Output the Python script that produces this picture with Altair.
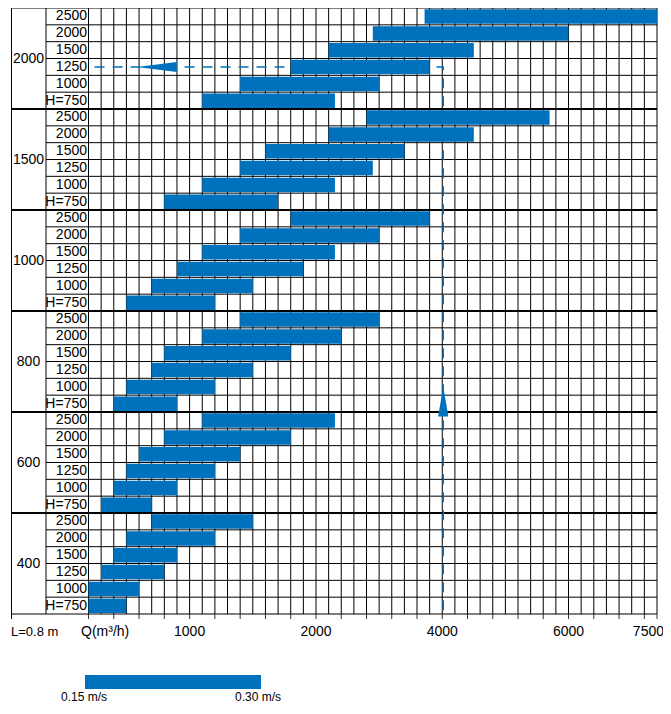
import altair as alt
import pandas as pd

# ---------------- data ----------------
widths = ["2000", "1500", "1000", "800", "600", "400"]          # group labels (top to bottom)
heights = ["2500", "2000", "1500", "1250", "1000", "H=750"]     # row labels inside each group

# Q (m3/h) at 0.15 m/s (bar start), per group, rows top->bottom
q_low_2000 = [3720, 2900, 2200, 1800, 1400, 1100]
q_low_1500 = [2800, 2200, 1600, 1400, 1100, 800]
q_low_1000 = [1800, 1400, 1100, 900, 700, 500]
q_low_800 = [1400, 1100, 800, 700, 500, 400]
q_low_600 = [1100, 800, 600, 500, 400, 300]
q_low_400 = [700, 500, 400, 300, 200, 200]

# Q (m3/h) at 0.30 m/s (bar end)
q_high_2000 = [7500, 6000, 4500, 3800, 3000, 2300]
q_high_1500 = [5700, 4500, 3400, 2900, 2300, 1700]
q_high_1000 = [3800, 3000, 2300, 1900, 1500, 1200]
q_high_800 = [3000, 2400, 1800, 1500, 1200, 900]
q_high_600 = [2300, 1800, 1400, 1200, 900, 700]
q_high_400 = [1500, 1200, 900, 800, 600, 500]

q_low = [q_low_2000, q_low_1500, q_low_1000, q_low_800, q_low_600, q_low_400]
q_high = [q_high_2000, q_high_1500, q_high_1000, q_high_800, q_high_600, q_high_400]

x_labels = [1000, 2000, 4000, 6000]
x_label_end = [7500]

# grid columns of the chart paper (Q values of the column boundaries)
grid_cols = (list(range(200, 2001, 100)) + list(range(2200, 6001, 200))
             + [6214, 6429, 6643, 6857, 7071, 7286, 7500])
tick_vals = grid_cols[::2] + [7500]

# example reading (dashed path): 4000 m3/h -> width 2000, H=1250
example_q = [240, 4000, 4000]
example_row = [3.5, 3.5, 36]

BLUE = "#0071bc"
FONT = "Liberation Sans"
W, H = 646, 606
N_ROWS = 36

# ---------------- tables ----------------
bars = []
rows = []
for gi, w in enumerate(widths):
    for hi, h in enumerate(heights):
        r = gi * 6 + hi
        bars.append({"q_lo": q_low[gi][hi], "q_hi": q_high[gi][hi],
                     "r0": r + 0.08, "r1": r + 1 - 0.06})
        rows.append({"label": h, "rc": r + 0.5})
bars = pd.DataFrame(bars)
rows = pd.DataFrame(rows)
groups = pd.DataFrame({"label": widths, "rc": [g * 6 + 3 for g in range(len(widths))]})
vgrid = pd.DataFrame({"q": grid_cols})
ticks = pd.DataFrame({"q": tick_vals})
xlab = pd.DataFrame({"q": x_labels, "t": [str(v) for v in x_labels]})
xlab_end = pd.DataFrame({"q": x_label_end, "t": [str(v) for v in x_label_end]})
inner = pd.DataFrame({"b": [b for b in range(N_ROWS + 1) if b % 6 != 0]})
outer = pd.DataFrame({"b": [b for b in range(0, N_ROWS + 1, 6)],
                      "sw": [1 if b in (0, N_ROWS) else 2 for b in range(0, N_ROWS + 1, 6)]})
path = pd.DataFrame({"q": example_q, "r": example_row, "o": [0, 1, 2]})

xs = alt.Scale(domain=[200, 2000, 6000, 7500], range=[77.5, 305, 557.5, 646],
               zero=False, nice=False)
ys = alt.Scale(domain=[0, N_ROWS], range=[0, H], zero=False, nice=False)


def X(f):
    return alt.X(f, scale=xs, axis=None)


def Y(f):
    return alt.Y(f, scale=ys, axis=None)


# ---------------- layers ----------------
grid_v = alt.Chart(vgrid).mark_rule(color="#000", strokeWidth=1).encode(
    x=X("q:Q"), y=alt.value(0), y2=alt.value(H))

grid_inner = alt.Chart(inner).mark_rule(color="#000", strokeWidth=1).encode(
    y=Y("b:Q"), x=alt.value(35), x2=alt.value(W))

grid_outer = alt.Chart(outer).mark_rule(color="#000").encode(
    y=Y("b:Q"), x=alt.value(0), x2=alt.value(W),
    strokeWidth=alt.StrokeWidth("sw:Q", scale=None))

border_left = alt.Chart().mark_rule(color="#000", strokeWidth=1).encode(
    x=alt.value(0.5), y=alt.value(0), y2=alt.value(H + 5))
border_mid = alt.Chart().mark_rule(color="#000", strokeWidth=1).encode(
    x=alt.value(35), y=alt.value(0), y2=alt.value(H))

tick_layer = alt.Chart(ticks).mark_rule(color="#333", strokeWidth=1).encode(
    x=X("q:Q"), y=alt.value(H), y2=alt.value(H + 5))

label_layer = alt.Chart(xlab).mark_text(align="center", baseline="middle", font=FONT,
                                        fontSize=14, color="#000").encode(
    x=X("q:Q"), y=alt.value(624), text="t:N")
label_end = alt.Chart(xlab_end).mark_text(align="right", baseline="middle", font=FONT,
                                          fontSize=14, color="#000", dx=7).encode(
    x=X("q:Q"), y=alt.value(624), text="t:N")

dashed = alt.Chart(path).mark_line(color=BLUE, strokeWidth=1.5, strokeDash=[10, 8],
                                   xOffset=1).encode(
    x=X("q:Q"), y=Y("r:Q"), order="o:Q")

bar_layer = alt.Chart(bars).mark_rect(color=BLUE).encode(
    x=X("q_lo:Q"), x2="q_hi:Q", y=Y("r0:Q"), y2="r1:Q")

arrow_h = alt.Chart(pd.DataFrame({"q": [740], "r": [3.5]})).mark_point(
    shape="M -1 0 L 1 -0.25 L 1 0.25 Z", size=1600, filled=True,
    color=BLUE, opacity=1, strokeWidth=0).encode(x=X("q:Q"), y=Y("r:Q"))

arrow_v = alt.Chart(pd.DataFrame({"q": [4000], "r": [23.37]})).mark_point(
    shape="M 0 -1 L 0.34 1 L -0.34 1 Z", size=900, filled=True,
    color=BLUE, opacity=1, strokeWidth=0, xOffset=1).encode(x=X("q:Q"), y=Y("r:Q"))

row_text = alt.Chart(rows).mark_text(align="right", baseline="middle", font=FONT,
                                     fontSize=14, color="#000").encode(
    x=alt.value(76), y=Y("rc:Q"), text="label:N")

group_text = alt.Chart(groups).mark_text(align="center", baseline="middle", font=FONT,
                                         fontSize=14, color="#000").encode(
    x=alt.value(17.5), y=Y("rc:Q"), text="label:N")

l_text = alt.Chart().mark_text(align="left", baseline="middle", font=FONT,
                               fontSize=13, color="#000").encode(
    x=alt.value(0), y=alt.value(624), text=alt.value("L=0.8 m"))
q_text = alt.Chart().mark_text(align="left", baseline="middle", font=FONT,
                               fontSize=14, color="#000").encode(
    x=alt.value(70), y=alt.value(624), text=alt.value("Q(m³/h)"))

legend_bar = alt.Chart().mark_rect(color=BLUE).encode(
    x=alt.value(74), x2=alt.value(250), y=alt.value(667), y2=alt.value(681))
legend_lo = alt.Chart().mark_text(align="center", baseline="middle", font=FONT,
                                  fontSize=12, color="#000").encode(
    x=alt.value(73), y=alt.value(689), text=alt.value("0.15 m/s"))
legend_hi = alt.Chart().mark_text(align="center", baseline="middle", font=FONT,
                                  fontSize=12, color="#000").encode(
    x=alt.value(247), y=alt.value(689), text=alt.value("0.30 m/s"))

chart = alt.layer(
    grid_v, grid_inner, grid_outer, border_left, border_mid, tick_layer, label_layer,
    label_end, dashed, bar_layer, arrow_h, arrow_v, row_text, group_text, l_text, q_text,
    legend_bar, legend_lo, legend_hi
).properties(
    width=W, height=H,
    autosize=alt.AutoSizeParams(type="none"),
    padding={"left": 3, "top": 0, "right": 6, "bottom": 92},
    background="white",
).configure_view(stroke=None)

chart.save("out.html", embed_options={"renderer": "svg", "actions": False})
